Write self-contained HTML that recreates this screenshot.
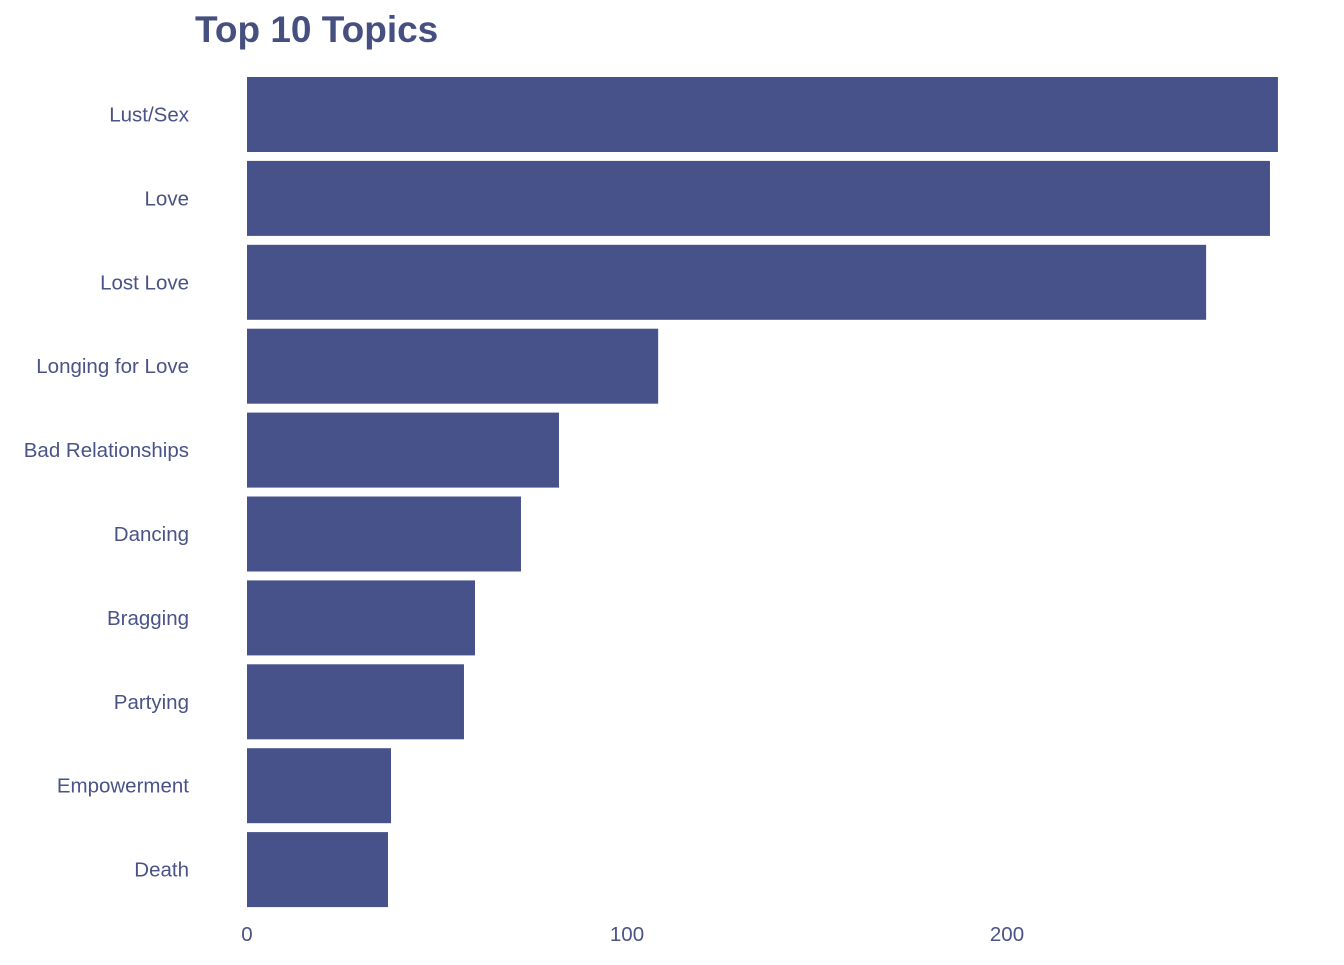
<!DOCTYPE html>
<html><head><meta charset="utf-8"><style>
body{margin:0;background:#fff;width:1344px;height:960px;overflow:hidden;font-family:"Liberation Sans",sans-serif}
</style></head><body>
<svg id="chart" width="1344" height="960" xmlns="http://www.w3.org/2000/svg">
<text x="195" y="42" font-size="37" font-weight="bold" fill="#454f80" font-family="Liberation Sans, sans-serif">Top 10 Topics</text>
<g id="bars"></g><g id="ylabels"></g><g id="xticks"></g>
</svg>
<script>
const categories=["Lust/Sex","Love","Lost Love","Longing for Love","Bad Relationships","Dancing","Bragging","Partying","Empowerment","Death"];
const values=[271.3,269.2,252.4,108.2,82.1,72.1,60,57.1,37.9,37.1];
const tickValues=[0,100,200];
const tickLabels=["0","100","200"];
const x0=247,pxPerUnit=3.8,top0=77,pitch=83.9,barH=75;
const xs=v=>x0+v*pxPerUnit;
const ys=i=>top0+i*pitch;
const NS="http://www.w3.org/2000/svg";
const bars=document.getElementById('bars'),yl=document.getElementById('ylabels'),xt=document.getElementById('xticks');
categories.forEach((c,i)=>{
 const r=document.createElementNS(NS,'rect');
 
 
 r.setAttribute('x',xs(0));r.setAttribute('y',ys(i));
 r.setAttribute('width',xs(values[i])-xs(0));r.setAttribute('height',barH);
 r.setAttribute('fill','#48528a');bars.appendChild(r);
 const t=document.createElementNS(NS,'text');
 
 
 t.setAttribute('x',189);t.setAttribute('y',ys(i)+barH/2+7);
 t.setAttribute('text-anchor','end');t.setAttribute('font-size','20.5');t.setAttribute('fill','#4a5387');
 t.textContent=c;yl.appendChild(t);
});
tickValues.forEach((v,i)=>{
 const t=document.createElementNS(NS,'text');
 
 
 t.setAttribute('x',xs(v));t.setAttribute('y',941);
 t.setAttribute('text-anchor','middle');t.setAttribute('font-size','20.5');t.setAttribute('fill','#4a5387');
 t.textContent=tickLabels[i];xt.appendChild(t);
});
</script>
</body></html>
